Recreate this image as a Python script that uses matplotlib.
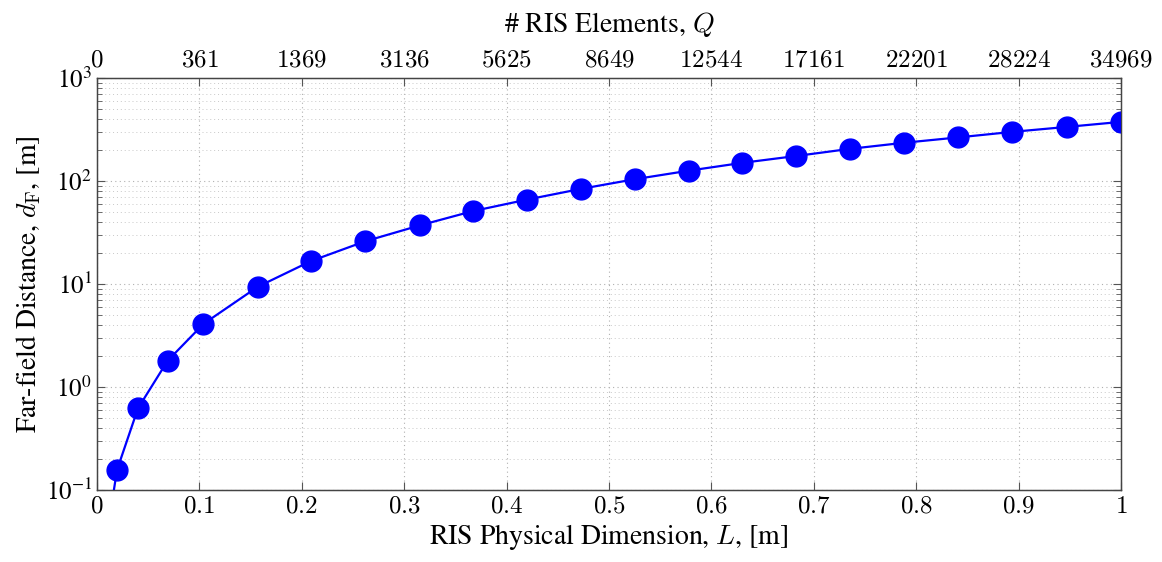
import numpy as np
import matplotlib
matplotlib.use("Agg")
import matplotlib.pyplot as plt
from matplotlib.ticker import LogLocator, NullFormatter

# values
L = [0.0105, 0.0195, 0.040, 0.069, 0.104, 0.157, 0.209, 0.262, 0.315, 0.367, 0.420,
     0.473, 0.525, 0.578, 0.630, 0.683, 0.735, 0.788, 0.841, 0.894, 0.947, 1.0]
d_far = [0.041, 0.156, 0.62, 1.8, 4.1, 9.4, 16.7, 26, 37, 51, 66,
         84, 104, 126, 150, 175, 205, 235, 265, 300, 335, 375]

top_ticks = [0, 0.1, 0.2, 0.3, 0.4, 0.5, 0.6, 0.7, 0.8, 0.9, 1.0]
top_labels = ["0", "361", "1369", "3136", "5625", "8649", "12544",
              "17161", "22201", "28224", "34969"]

plt.rcParams["font.family"] = ["STIXGeneral", "DejaVu Serif"]
plt.rcParams["mathtext.fontset"] = "cm"

fig = plt.figure(figsize=(11.62, 5.62), dpi=100)
ax = fig.add_axes([97 / 1162, 1 - 490 / 562, (1121 - 97) / 1162, (490 - 78) / 562])

ax.plot(L, d_far, color="#0000ff", lw=1.6, marker="o", ms=15, zorder=3)

ax.set_yscale("log")
ax.set_xlim(0, 1)
ax.set_ylim(0.1, 1000)
ax.set_xticks(top_ticks)
ax.set_xticklabels(["$%g$" % t for t in top_ticks])
ax.yaxis.set_major_locator(LogLocator(base=10, numticks=10))
ax.yaxis.set_minor_locator(LogLocator(base=10, subs=np.arange(2, 10), numticks=20))
ax.yaxis.set_minor_formatter(NullFormatter())

ax.grid(True, which="major", ls=(0, (1, 3)), color="#b0b0b0", lw=0.8)
ax.grid(True, which="minor", axis="y", ls=(0, (1, 3)), color="#c8c8c8", lw=0.7)
ax.set_axisbelow(True)

ax.tick_params(which="both", direction="in", top=False, right=True, labelsize=18)
ax.tick_params(which="major", length=6, color="#555555")
ax.tick_params(which="minor", length=3.5, color="#555555")
for s in ax.spines.values():
    s.set_color("#444444")
    s.set_linewidth(1.0)

ax.set_xlabel("RIS Physical Dimension, $L$, [m]", fontsize=20, labelpad=2)
ax.set_ylabel("Far-field Distance, $d_{\\mathrm{F}}$, [m]", fontsize=20, labelpad=2)

ax2 = ax.twiny()
ax2.set_xlim(ax.get_xlim())
ax2.set_xticks(top_ticks)
ax2.set_xticklabels(["$%s$" % t for t in top_labels])
ax2.tick_params(direction="in", length=6, color="#555555", labelsize=18, pad=4)
for s in ax2.spines.values():
    s.set_color("#444444")
ax2.set_xlabel("# RIS Elements, $Q$", fontsize=20, labelpad=12)

fig.savefig("out.png", dpi=100)
